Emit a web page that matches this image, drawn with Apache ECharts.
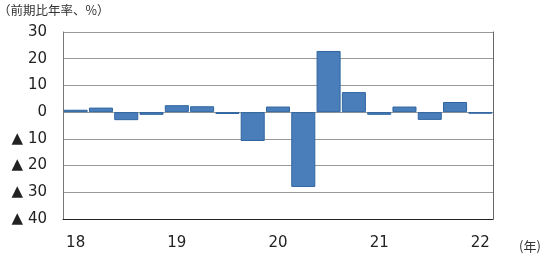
<!DOCTYPE html>
<html><head><meta charset="utf-8">
<script src="https://cdn.jsdelivr.net/npm/echarts@6/dist/echarts.min.js"></script>
<style>html,body{margin:0;padding:0;background:#fff}#c{width:550px;height:261px}</style>
</head><body><div id="c"></div>
<script>
const categories = ['18Q1','18Q2','18Q3','18Q4','19Q1','19Q2','19Q3','19Q4','20Q1','20Q2','20Q3','20Q4','21Q1','21Q2','21Q3','21Q4','22Q1'];
const yearLabels = {'18Q1':'18','19Q1':'19','20Q1':'20','21Q1':'21','22Q1':'22'};
const values = [0.9, 1.7, -3.0, -1.0, 2.6, 2.2, -0.7, -10.8, 2.1, -28.0, 22.9, 7.5, -1.0, 2.1, -2.9, 3.8, -0.6];
const yTicks = {min: -40, max: 30, interval: 10};

const chart = echarts.init(document.getElementById('c'));
const font = 'DejaVu Sans, Verdana, sans-serif';
chart.setOption({
  animation: false,
  graphic: [
    {type:'text', left: -2, top: 4, style:{text:'（前期比年率、%）', font:'12.5px "Noto Sans CJK JP"', fill:'#333'}},
    {type:'text', left: 519, top: 240, style:{text:'(年)', font:'13px "Noto Sans CJK JP"', fill:'#333'}}
  ],
  grid: {left: 63, right: 57, top: 32, bottom: 42},
  xAxis: {
    type: 'category', data: categories,
    axisLine: {onZero: false, lineStyle: {color: '#222', width: 1}},
    axisTick: {show: false},
    axisLabel: {interval: 0, formatter: v => yearLabels[v] || '', margin: 17, fontSize: 15, color: '#222', fontFamily: font}
  },
  yAxis: [{
    type: 'value', min: yTicks.min, max: yTicks.max, interval: yTicks.interval,
    axisLine: {show: true, lineStyle: {color: '#777'}},
    axisTick: {show: false},
    splitLine: {lineStyle: {color: '#999'}},
    axisLabel: {formatter: v => v < 0 ? '▲ ' + (-v) : String(v), margin: 16, fontSize: 15, color: '#222', fontFamily: font}
  }, {
    type: 'value', min: yTicks.min, max: yTicks.max, interval: yTicks.interval, position: 'right',
    axisLine: {show: true, lineStyle: {color: '#666'}},
    axisTick: {show: false}, axisLabel: {show: false}, splitLine: {show: false}
  }],
  series: [{
    type: 'bar', data: values, barCategoryGap: '5%',
    itemStyle: {color: '#4a7ebb', borderColor: '#2e65a0', borderWidth: 1}
  }]
});
</script></body></html>
